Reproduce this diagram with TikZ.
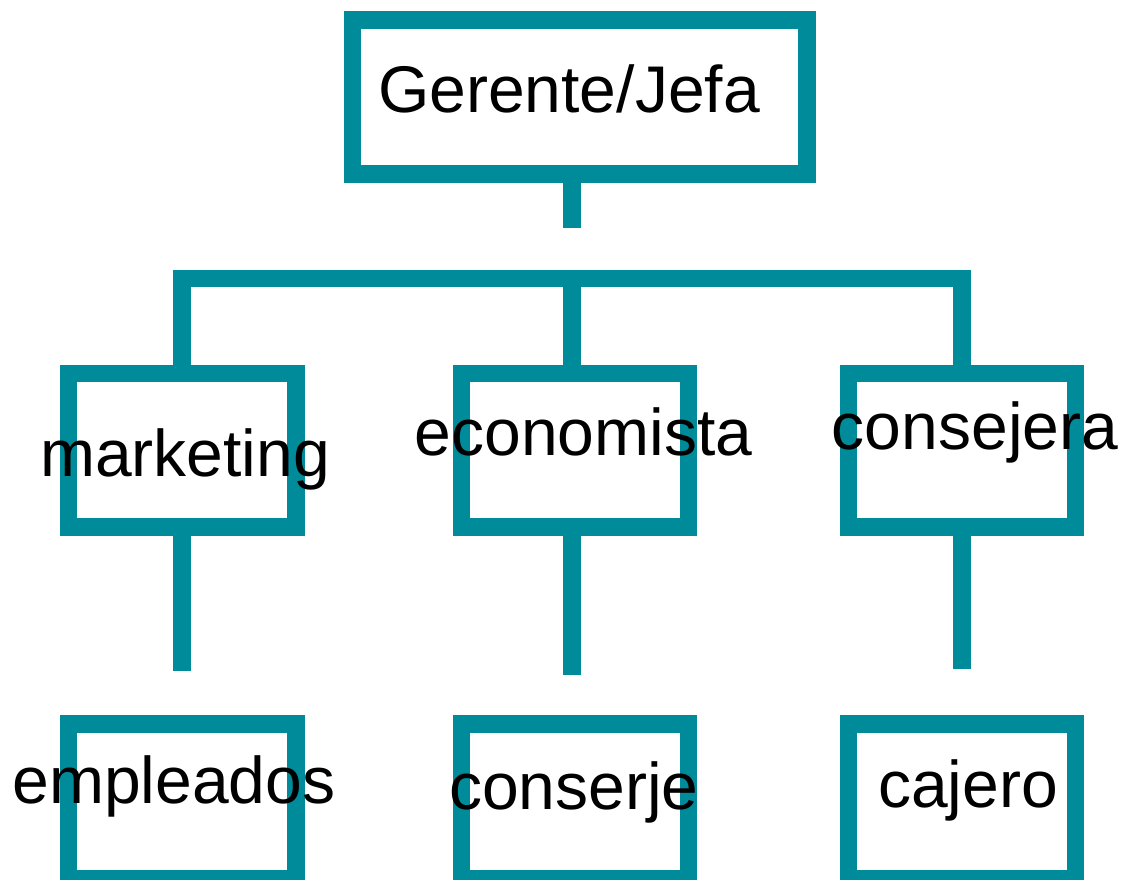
\documentclass[tikz,border=0pt]{standalone}
\usepackage{fontspec}
\setmainfont{Liberation Sans}
\definecolor{teal1}{RGB}{0,139,155}
\begin{document}
\begin{tikzpicture}[x=1pt,y=-1pt,
  box/.style={draw=teal1,line width=17.5pt,rectangle,inner sep=0pt,fill=none},
  conn/.style={draw=teal1,line width=17.5pt,line cap=butt,line join=miter},
  lbl/.style={anchor=base,inner sep=0pt,font=\fontsize{66}{66}\selectfont,text=black}]
\useasboundingbox (0,0) rectangle (1127,879);
% boxes
\node[box,minimum width=454.5pt,minimum height=154pt] (top) at (579.5,96.75) {};
\node[box,minimum width=227.5pt,minimum height=153.5pt] (m1) at (182,450) {};
\node[box,minimum width=227pt,minimum height=153.5pt] (m2) at (575,450) {};
\node[box,minimum width=227.25pt,minimum height=153.5pt] (m3) at (961.9,450) {};
\node[box,minimum width=227.5pt,minimum height=155pt] (b1) at (182,801.25) {};
\node[box,minimum width=227pt,minimum height=155pt] (b2) at (575,801.25) {};
\node[box,minimum width=227.25pt,minimum height=155pt] (b3) at (961.9,801.25) {};
% coordinates
\coordinate (s1) at (572,227.7);
\coordinate (barL) at (182,278.7);
\coordinate (barR) at (962,278.7);
\coordinate (d1) at (182,671);
\coordinate (d2) at (572,675);
\coordinate (d3) at (962,669);
% connectors
\draw[conn] (s1 |- top.south) -- (s1);
\draw[conn] (m1.north) -- (m1.north |- barL) -- (barR) -- (barR |- m3.north);
\draw[conn] (s1 |- barL) -- (s1 |- m2.north);
\draw[conn] (m1.south) -- (d1);
\draw[conn] (s1 |- m2.south) -- (d2);
\draw[conn] (d3 |- m3.south) -- (d3);
% labels
\node[lbl] (tTop) at (569,112) {Gerente/Jefa};
\node[lbl] (tM1) at (185,476.7) {marketing};
\node[lbl] (tM2) at (583.5,455) {economista};
\node[lbl] (tM3) at (975,449.3) {consejera};
\node[lbl] (tB1) at (174,803.3) {empleados};
\node[lbl] (tB2) at (574,809.3) {conserje};
\node[lbl] (tB3) at (968,807.3) {cajero};
\end{tikzpicture}
\end{document}
